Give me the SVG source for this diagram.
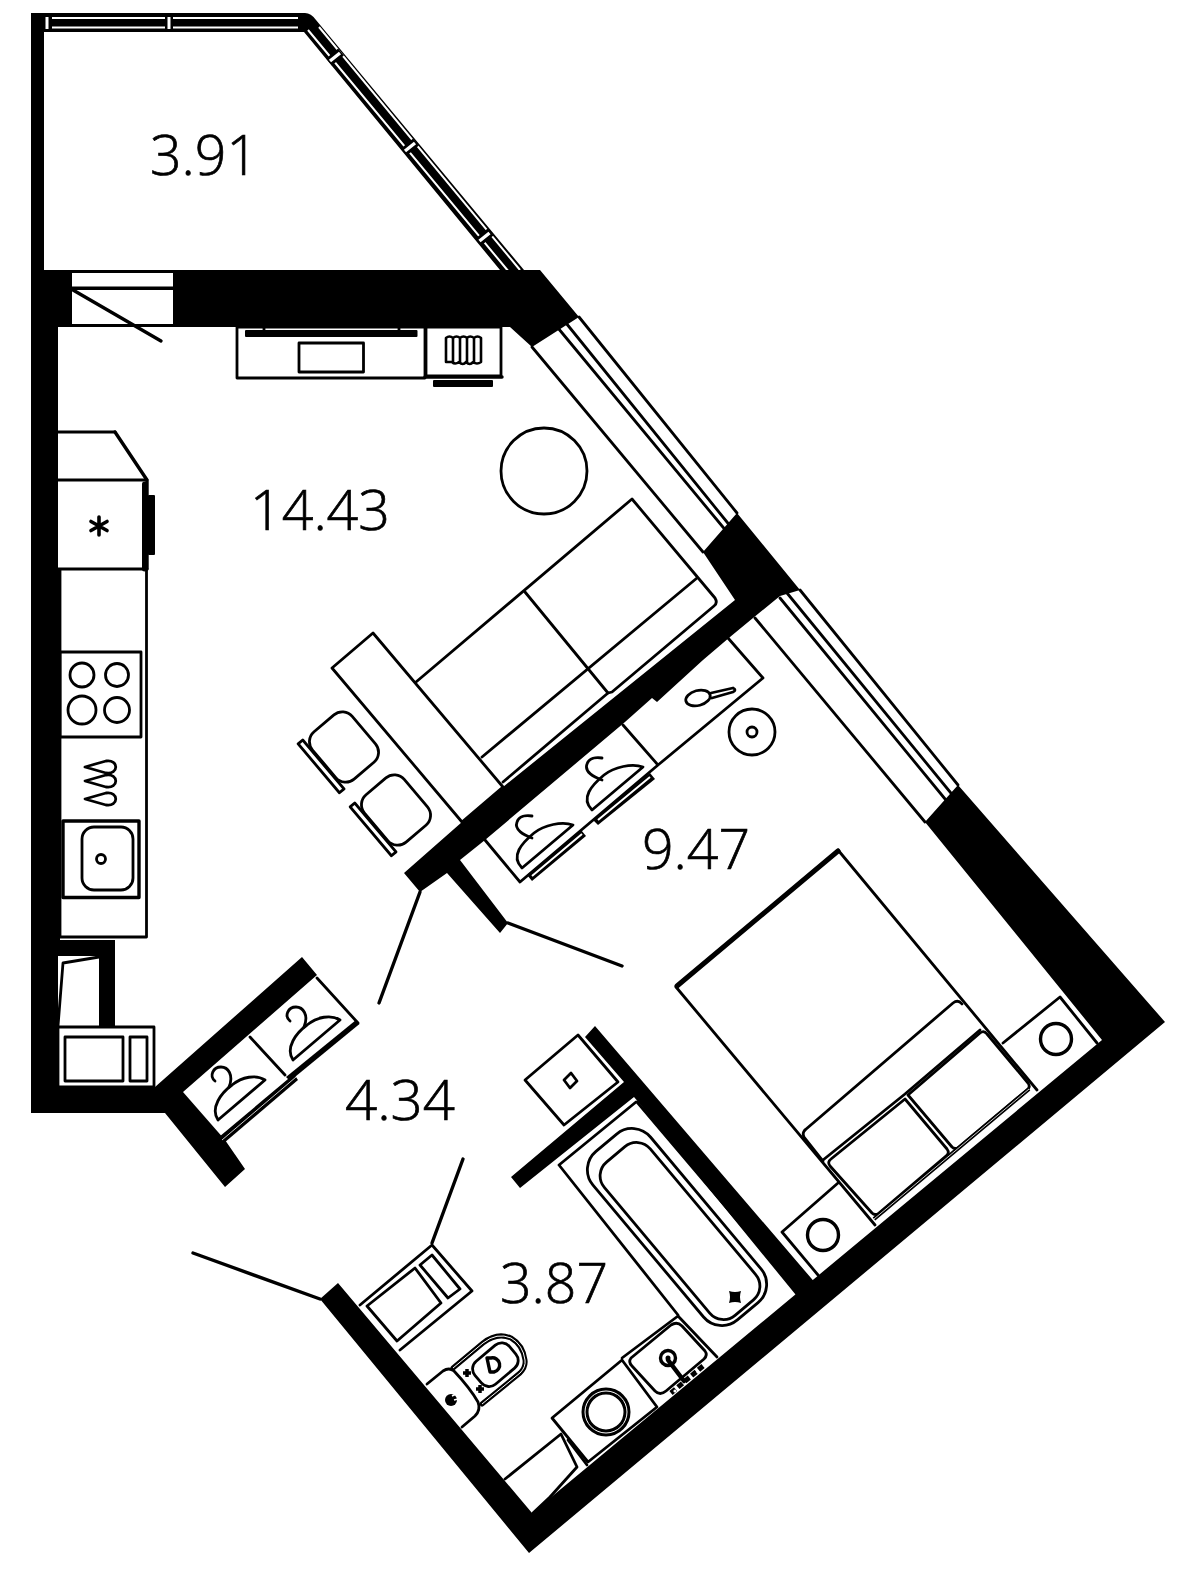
<svg xmlns="http://www.w3.org/2000/svg" width="1183" height="1569" viewBox="0 0 1183 1569">
<style>
.w{fill:#000;stroke:none}
.l{fill:none;stroke:#000;stroke-width:2.8;stroke-linejoin:round;stroke-linecap:round}
.f{fill:#fff;stroke:#000;stroke-width:2.8;stroke-linejoin:round}
.t{fill:none;stroke:#000;stroke-width:3.4;stroke-linejoin:round;stroke-linecap:round}
.s{fill:none;stroke:#fff;stroke-width:2}
.n{font-family:"Open Sans","Liberation Sans",sans-serif;font-weight:300;font-size:56px;fill:#000;stroke:#000;stroke-width:.7}
</style>
<defs>
<g id="hanger-a"><path class="l" d="M0,0 L47,-40 C38,-46 24,-43 14,-35 C3,-27 -8,-12 0,0Z"/><path class="l" d="M11,-33 C16,-45 10,-53 3,-53 C-5,-53 -9,-44 -3,-39"/></g>
<g id="hanger-b"><path class="l" d="M0,0 L51,-43 C40,-47 22,-43 12,-35 C0,-25 -12,-12 0,0Z"/><path class="l" d="M10,-30 C2,-33 -8,-38 -5,-46 C-3,-52 4,-53 10,-52"/></g>
<g id="chair"><rect class="f" x="-31" y="-26" width="62" height="52" rx="13"/><rect class="f" x="-32" y="27" width="64" height="6"/></g>
<g id="nightstand-circle"><circle class="t" r="15.500"/></g>
</defs>
<rect width="1183" height="1569" fill="#fff"/>

<g id="balcony">
<path class="w" d="M31,13 H305 Q311,13 316,20 L524,270 H500 L304,32 H44 V270 H31Z"/>
<path class="s" d="M52,18 H165 M173,18 H298 M52,27.5 H165 M173,27.5 H298"/>
<path class="s" style="stroke-width:3" d="M47,17 V29 M169,17 V29"/>
<path class="s" d="M308,30 L509,272 M319,27 L520,270"/>
<path d="M329,62 L341,52 M404,152 L416,142 M478.500,242 L490.500,232" fill="none" stroke="#000" stroke-width="9"/>
<path class="s" style="stroke-width:3.400" d="M330,61 L340,53 M405,151 L415,143 M479.500,241 L489.500,233"/>
</g>

<g id="windows">
<path class="l" d="M532,347 L703,552 M558,328 L727,532 M566,323 L731,527 M579,317 L737,513"/>
<path class="l" d="M755,618 L925,822 M780,598 L950,805 M787,593 L955,798 M800,590 L958,785"/>
</g>

<g id="walls">
<path class="w" d="M31,270 H540 L579,317 L532,347 L510,327 H58 V570 H60 V940 H115 V1027 H58 V1087 H155 L302,957 L317,975 L183,1092 L225,1140 L245,1169 L225,1187 L165,1113 H31Z"/>
<rect x="72" y="273" width="101" height="51" fill="#fff"/>
<rect x="72" y="286.500" width="101" height="3.500" fill="#000"/>
<path class="w" d="M737,513 L800,590 L780,596 L753,618 L730,637 L703,660 L657,702 L652,698 L625,722 L485,840 L460,860 L508,923 L500,933 L447,873 L420,892 L404,873 L462,822 L503,787 L735,600 L703,552Z"/>
<path class="w" d="M958,785 L1165,1022 L529,1553 L320,1299 L338,1283 L532,1513 L1102,1040 L925,822Z"/>
<path class="w" d="M595,1026 L817,1285 L800,1300 L640,1104 L634,1097 L520,1188 L511,1177 L624,1082 L585,1037Z"/>
<rect x="58" y="956" width="41" height="70" fill="#fff"/>
</g>

<g id="doors">
<path class="t" d="M73,290 L161,341"/>
<path class="t" d="M420,892 L379,1003"/>
<path class="t" d="M508,923 L622,966"/>
<path class="t" d="M432,1243 L463,1159"/>
<path class="t" d="M320,1299 L193,1253"/>
<path class="l" d="M58,1026 L63,963 L99,957"/>
</g>

<g id="tv-unit">
<rect class="l" x="237" y="327" width="188" height="51"/>
<rect class="w" x="245" y="330" width="172.500" height="7" rx="1"/>
<rect class="l" x="299" y="343" width="64.500" height="29"/>
<path class="l" d="M264,327 V330 M399,327 V330"/>
</g>
<g id="radiator-unit">
<rect class="f" x="426" y="327" width="75" height="49"/>
<path class="t" d="M425,377 H502"/>
<rect class="w" x="433" y="380" width="60" height="7" rx="1"/>
<path class="l" style="stroke-width:2.600" d="M446,338 Q449.500,335 453,338 Q456.500,335 460,338 Q463.500,335 467,338 Q470,335 474,338 Q477.500,335 481,338 V362 Q477,365 473,362 Q470,366 466,362 Q463,366 459,362 Q455,365 452,362 Q449,362 446,362 Z M453,338 V362 M460,338 V362 M467,338 V362 M474,338 V362"/>
</g>
<g id="round-table"><circle class="l" cx="544" cy="471" r="43"/></g>

<g id="kitchen">
<path class="l" d="M58,432 H115 M58,480 H147 M58,569 H147"/>
<path class="t" d="M115,432 L147,480 V569"/>
<path class="t" style="stroke-width:5" d="M144.500,484 V569"/>
<rect class="w" x="148" y="495" width="7" height="60" rx="1"/>
<path class="l" style="stroke-width:3.600" d="M99,517 V535 M91,521.500 L107,530.500 M107,521.500 L91,530.500"/>
<path class="l" d="M146.500,569 V937 H58 M60,570 V937"/>
<rect class="l" x="60" y="652" width="81" height="85"/>
<circle class="l" cx="82" cy="675" r="12"/><circle class="l" cx="117" cy="675" r="11.500"/>
<circle class="l" cx="82" cy="710" r="14"/><circle class="l" cx="117" cy="710" r="12.500"/>
<path class="l" d="M85,767 L106,761 C119,759 119,775 106,773 Z"/>
<path class="l" d="M85,781 L106,775 C119,773 119,789 106,787 Z"/>
<path class="l" d="M85,799 L106,793 C119,791 119,807 106,805 Z"/>
<rect class="t" x="63" y="821" width="76" height="76.500"/>
<rect class="l" x="82" y="827" width="51" height="63" rx="12"/>
<circle class="l" cx="101" cy="859" r="4.500"/>
</g>
<g id="microwave">
<rect class="f" x="58" y="1027" width="96" height="60"/>
<rect class="l" x="65" y="1037" width="58" height="44"/>
<rect class="l" x="130" y="1037" width="17" height="44"/>
</g>

<g id="dining">
<path class="l" d="M373,633 L332,668 L462,822 L503,787Z"/>
<use href="#chair" transform="translate(344,747) rotate(49.800)"/>
<use href="#chair" transform="translate(396,810) rotate(49.800)"/>
</g>
<g id="sofa">
<path class="l" d="M416,682 L632,499 L715,598 Q718,603 714,606 L612,692 L608,693 L503,782"/>
<path class="l" d="M525,592 L608,693"/>
<path class="l" d="M697,578 L482,757"/>
</g>

<g id="wardrobe-bedroom">
<path class="l" d="M728,638 L763,678 L658,765 L623,725 M658,765 L520,882 L485,840"/>
<path class="w" d="M650,773 L655,779 L598,825 L593,820Z"/>
<path class="w" d="M581,830 L586,836 L532,881 L527,875Z"/>
<path class="s" d="M650,777 L598,820 M582,834 L532,876"/>
<use href="#hanger-b" x="522" y="868"/>
<use href="#hanger-b" x="592" y="810"/>
<ellipse class="l" cx="698" cy="698" rx="12.500" ry="7.500" transform="rotate(-15 698 698)"/>
<path class="l" d="M711,693 L733,688 Q737,690 733,692 L712,698"/>
<circle class="l" cx="752" cy="732" r="23"/>
<circle class="l" cx="752" cy="732" r="5"/>
</g>

<g id="bed">
<path class="l" d="M838,850 L1037,1090 M676,987 L875,1225"/>
<path class="t" style="stroke-width:5" d="M838,851 L677,986"/>
<path class="l" d="M805,1130 L953,1003 Q958,999 962,1004"/>
<path class="l" d="M805,1130 Q802,1133 804,1137 L823,1161"/>
<path class="l" d="M823,1160 L905,1094 L980,1030"/>
<path class="l" d="M908,1095 L980,1033 Q984,1030 987,1034 L1028,1083 Q1031,1087 1027,1090 L959,1147 Q955,1150 952,1147 Z"/>
<path class="l" d="M905,1099 L947,1149 Q950,1153 946,1156 L879,1213 Q875,1216 872,1213 L830,1166 Q827,1162 831,1159 Z"/>
<path d="M1029,1089 L874,1219" fill="none" stroke="#000" stroke-width="4"/>
<path class="s" style="stroke-width:.8" d="M1029,1089 L874,1219"/>
</g>
<g id="nightstand-right">
<path class="l" d="M1003,1043 L1060,997 L1097,1043"/>
<use href="#nightstand-circle" x="1056" y="1039"/>
</g>
<g id="nightstand-left">
<path class="l" d="M838,1183 L782,1232 L818,1275"/>
<use href="#nightstand-circle" x="823" y="1235"/>
</g>

<g id="wardrobe-hall">
<path class="l" d="M317,978 L358,1023 M250,1037 L285,1075"/>
<path class="w" d="M356,1020 L359.500,1024 L290,1081 L286,1077Z"/>
<path class="w" d="M294,1074 L298,1080 L224,1143 L219,1137Z"/>
<path class="s" style="stroke-width:.8" d="M296,1077 L222,1140"/>
<use href="#hanger-a" x="293" y="1060"/>
<use href="#hanger-a" x="218" y="1120"/>
</g>

<g id="box">
<path class="l" d="M578,1035 L618,1082 L564,1125 L525,1080Z"/>
<path class="l" d="M571,1073 L577,1081 L570,1088 L564,1080Z"/>
</g>
<g id="bath">
<path class="l" d="M636,1102 L559,1165 L678,1315 M637,1102 L798,1292"/>
<rect class="l" x="-110" y="-37.500" width="220" height="75" rx="24" transform="translate(677,1227) rotate(50)"/>
<rect class="l" x="-100" y="-30" width="200" height="60" rx="18" transform="translate(680,1231) rotate(50)"/>
<path class="w" d="M729,1291 Q735,1293 741,1291 Q739,1297 741,1303 Q735,1301 729,1303 Q731,1297 729,1291Z"/>
</g>
<g id="boiler">
<path class="l" d="M360,1305 L432,1245 L472,1291 L400,1350"/>
<path class="l" d="M367,1306 L415,1268 L441,1303 L397,1341Z"/>
<path class="l" d="M420,1265 L432,1255 L460,1289 L448,1298Z"/>
</g>
<g id="toilet">
<path class="l" d="M427,1384 L443,1371 Q449,1367 454,1371 Q470,1388 478,1402 Q481,1410 475,1416 L462,1427"/>
<path class="t" style="stroke-width:5" d="M453,1368 L483,1343 Q497,1332 511,1338 Q523,1345 525,1360 Q526,1367 520,1373 L482,1404"/>
<path class="s" style="stroke-width:1" d="M453,1368 L483,1343 Q497,1332 511,1338 Q523,1345 525,1360 Q526,1367 520,1373 L482,1404"/>
<rect class="l" x="-22" y="-15" width="45" height="30" rx="10" transform="translate(495,1365) rotate(-40)"/>
<path class="t" d="M487,1358 h4 a7,7 0 0 1 3,14 h-4 z"/>
<path d="M467,1369 V1377 M463,1373 H471 M480,1385 V1393 M476,1389 H484" fill="none" stroke="#000" stroke-width="3.500"/>
<circle class="w" cx="451" cy="1400" r="6"/>
<path class="s" style="stroke-width:1.500" d="M452,1396 L456,1394 M454,1400 L458,1399"/>
</g>
<g id="washer">
<path class="l" d="M552,1418 L622,1360 L657,1407 L588,1462Z"/>
<circle cx="606" cy="1412" r="21" fill="none" stroke="#000" stroke-width="7"/>
<circle cx="606" cy="1412" r="21" fill="none" stroke="#fff" stroke-width="1"/>
</g>
<g id="washbasin">
<path class="l" d="M622,1358 L678,1316 L717,1357"/>
<path class="l" d="M631,1358 L671,1325 Q677,1321 682,1326 L705,1351 Q708,1355 704,1359 L666,1391 Q660,1396 655,1391 L632,1366 Q628,1362 631,1358Z"/>
<circle class="t" cx="668" cy="1358" r="7.500"/>
<circle class="w" cx="668" cy="1358" r="2.500"/>
<path class="t" style="stroke-width:4.500" d="M668,1360 L684,1381"/>
<path d="M671,1393 L703,1366" fill="none" stroke="#000" stroke-width="5" stroke-dasharray="6 3"/>
<circle cx="675" cy="1391" r="1.600" fill="#fff"/>
<circle cx="698" cy="1372" r="1.600" fill="#fff"/>
</g>
<g id="shower-door">
<path class="l" d="M505,1479 L561,1434 L577,1467 L550,1497 L533,1513"/>
<path class="l" d="M568,1440 L587,1465"/>
</g>

<g id="labels">
<text class="n" x="150" y="175" textLength="108" lengthAdjust="spacingAndGlyphs">3.91</text>
<text class="n" x="250" y="530" textLength="140" lengthAdjust="spacingAndGlyphs">14.43</text>
<text class="n" x="642" y="869" textLength="108" lengthAdjust="spacingAndGlyphs">9.47</text>
<text class="n" x="345" y="1120" textLength="110" lengthAdjust="spacingAndGlyphs">4.34</text>
<text class="n" x="500" y="1303" textLength="108" lengthAdjust="spacingAndGlyphs">3.87</text>
</g>
</svg>
